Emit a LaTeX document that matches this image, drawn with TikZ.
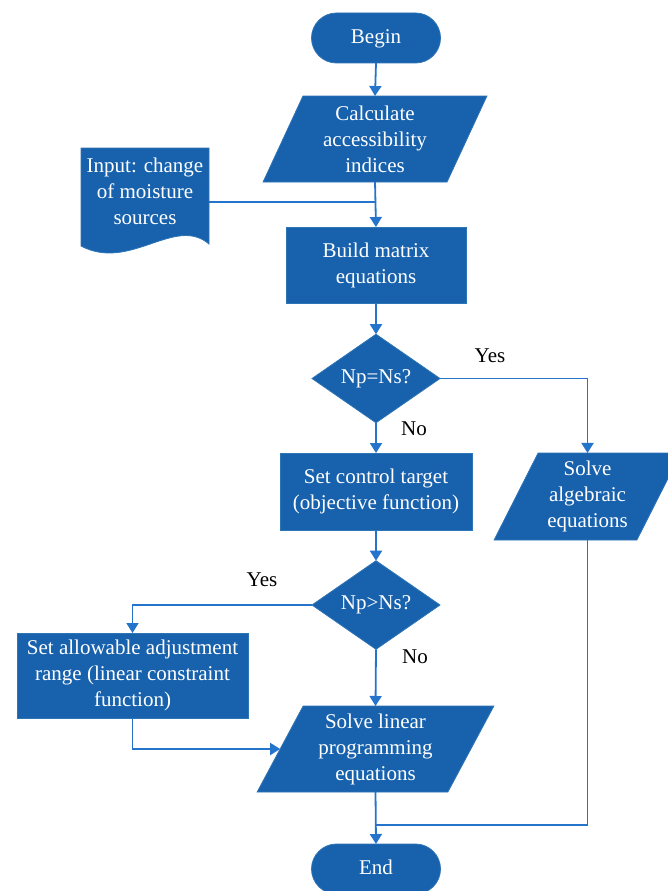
\documentclass[tikz,border=0pt]{standalone}
\usepackage{fontspec}
\setmainfont{Liberation Serif}
\usetikzlibrary{shapes.geometric,arrows.meta}
\definecolor{boxfill}{RGB}{24,98,173}
\definecolor{boxedge}{RGB}{46,117,182}
\definecolor{linkblue}{RGB}{36,116,204}
\tikzset{
  every node/.style={font=\rmfamily\fontsize{21}{26}\selectfont, inner sep=0pt, outer sep=0pt},
  shapebox/.style={fill=boxfill, draw=boxedge, line width=0.8pt, text=white, align=center},
  termbox/.style={shapebox, rectangle, rounded corners=25pt, minimum width=129pt, minimum height=50pt, text height=15pt, text depth=4pt},
  procbox/.style={shapebox, rectangle},
  iobox/.style={shapebox, trapezium, trapezium stretches=true},
  decbox/.style={shapebox, diamond, minimum width=128pt, minimum height=75pt},
  lbl/.style={text=black},
  arr/.style={draw=linkblue, line width=1.8pt, -{Triangle[length=10pt,width=12pt]}},
  lnk/.style={draw=linkblue, line width=1.8pt}
}
\begin{document}
\begin{tikzpicture}[x=1pt,y=-1pt]
\useasboundingbox (0,0) rectangle (667,891);
% nodes
\node[termbox] (begin) at (376,38) {Begin};
\node[iobox, trapezium left angle=66.7, trapezium right angle=113.3, minimum width=224pt, minimum height=86pt] (calc) at (375,139) {Calculate\\accessibility\\indices};
% input document
\fill[boxfill, draw=boxedge, line width=0.8pt] (81,148) -- (209,148) -- (209,244) .. controls (175,215) and (130,272) .. (81,246) -- cycle;
\node[text=white, align=center, minimum width=128pt] (input) at (145,191.5) {Input: change\\of moisture\\sources};
\node[procbox, minimum width=180pt, minimum height=76pt] (build) at (376,265) {Build matrix\\equations};
\node[decbox] (d1) at (376,378.5) {Np=Ns?};
\node[procbox, minimum width=192pt, minimum height=77pt] (ctrl) at (376,491.5) {Set control target\\(objective function)};
\node[iobox, trapezium left angle=63.2, trapezium right angle=116.8, minimum width=187pt, minimum height=87pt] (alg) at (587.5,496.5) {Solve\\algebraic\\equations};
\node[decbox, minimum height=76pt] (d2) at (376,605) {Np>Ns?};
\node[procbox, minimum width=231pt, minimum height=85pt] (allow) at (132.5,675.5) {Set allowable adjustment\\range (linear constraint\\function)};
\node[iobox, trapezium left angle=62.9, trapezium right angle=117.1, minimum width=237pt, minimum height=86pt] (linear) at (375.5,749) {Solve linear\\programming\\equations};
\node[termbox] (end) at (376,869) {End};
% labels
\node[lbl] (yes1) at (490,356) {Yes};
\node[lbl] (no1) at (414,429) {No};
\node[lbl] (yes2) at (262,580) {Yes};
\node[lbl] (no2) at (415,657) {No};
% junctions
\coordinate (j1) at (376,202);
\coordinate (j2) at (376,825);
% connectors
\draw[arr] (begin.south) -- (calc.north);
\draw[arr] (calc.south) -- (build.north);
\draw[lnk] (input.east |- j1) -- (j1);
\draw[arr] (build.south) -- (d1.north);
\draw[arr] (d1.east) -| (alg.north);
\draw[arr] (d1.south) -- (ctrl.north);
\draw[arr] (ctrl.south) -- (d2.north);
\draw[arr] (d2.west) -| (allow.north);
\draw[arr] (d2.south) -- (linear.north);
\draw[arr] (allow.south) |- (linear.west);
\draw[lnk] (alg.south) |- (j2);
\draw[arr] (linear.south) -- (end.north);
\end{tikzpicture}
\end{document}
